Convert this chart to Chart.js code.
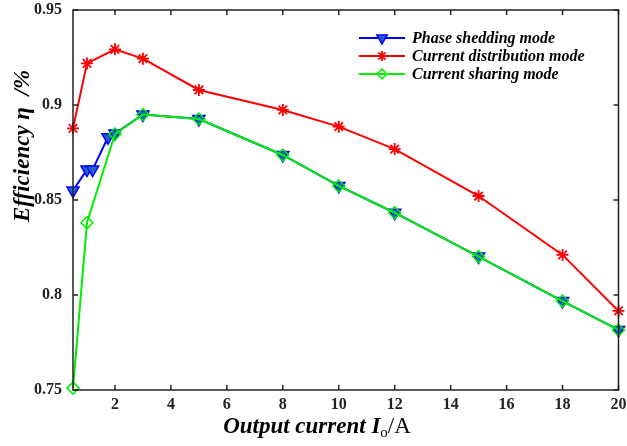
<!DOCTYPE html>
<html>
<head>
<meta charset="utf-8">
<script src="https://cdn.jsdelivr.net/npm/chart.js@4/dist/chart.umd.min.js"></script>
<style>
  html, body { margin: 0; padding: 0; background: #fff; }
  #wrap { width: 627px; height: 446px; }
</style>
</head>
<body>
<div id="wrap"><canvas id="effChart"></canvas></div>
<script>
// Efficiency vs output current
const sheddingX = [0.5, 1, 1.2, 1.75, 2, 3, 5, 8, 10, 12, 15, 18, 20];
const sheddingY = [0.855, 0.866, 0.866, 0.883, 0.885, 0.895, 0.8926, 0.8737, 0.8574, 0.8433, 0.8202, 0.7968, 0.7816];

const distributionX = [0.5, 1, 2, 3, 5, 8, 10, 12, 15, 18, 20];
const distributionY = [0.8877, 0.9219, 0.9293, 0.9244, 0.9079, 0.8974, 0.8886, 0.8768, 0.8521, 0.8211, 0.7916];

const sharingX = [0.5, 1, 2, 3, 5, 8, 10, 12, 15, 18, 20];
const sharingY = [0.751, 0.838, 0.8847, 0.895, 0.8926, 0.8737, 0.8574, 0.8433, 0.8202, 0.7968, 0.7816];

const xTicks = [2, 4, 6, 8, 10, 12, 14, 16, 18, 20];
const yTicks = [0.75, 0.8, 0.85, 0.9, 0.95];
const yTickLabels = ["0.75", "0.8", "0.85", "0.9", "0.95"];

const seriesNames = ["Phase shedding mode", "Current distribution mode", "Current sharing mode"];

const toPoints = (xs, ys) => xs.map((x, i) => ({ x: x, y: ys[i] }));

const serif = "'Liberation Serif', 'Times New Roman', serif";

// frame + inward ticks on all four sides, axis titles with subscripts, legend
const framePlugin = {
  id: "frame",
  afterDraw(chart) {
    const c = chart.ctx;
    const a = chart.chartArea;
    const xs = chart.scales.x;
    const ys = chart.scales.y;
    c.save();
    c.strokeStyle = "#222";
    c.lineWidth = 1.5;
    c.strokeRect(a.left, a.top, a.right - a.left, a.bottom - a.top);
    c.beginPath();
    xTicks.forEach((t) => {
      const px = xs.getPixelForValue(t);
      c.moveTo(px, a.bottom); c.lineTo(px, a.bottom - 5);
      c.moveTo(px, a.top); c.lineTo(px, a.top + 5);
    });
    yTicks.forEach((t) => {
      const py = ys.getPixelForValue(t);
      c.moveTo(a.left, py); c.lineTo(a.left + 5, py);
      c.moveTo(a.right, py); c.lineTo(a.right - 5, py);
    });
    c.stroke();

    // x title: Output current I_o/A
    c.fillStyle = "#000";
    c.textBaseline = "alphabetic";
    const parts = [
      { t: "Output current I", f: "italic bold 23px " + serif, dy: 0 },
      { t: "o", f: "15px " + serif, dy: 4 },
      { t: "/A", f: "23px " + serif, dy: 0 },
    ];
    let total = 0;
    parts.forEach((p) => { c.font = p.f; p.w = c.measureText(p.t).width; total += p.w; });
    let x0 = 317 - total / 2;
    parts.forEach((p) => { c.font = p.f; c.fillText(p.t, x0, 433 + p.dy); x0 += p.w; });

    // y title: Efficiency η /%
    c.translate(29, 146);
    c.rotate(-Math.PI / 2);
    const yt = "Efficiency η  /%";
    c.font = "italic bold 23px " + serif;
    c.textAlign = "center";
    c.fillText(yt, 0, 0);
    c.restore();

    // legend
    c.save();
    const rows = [38, 56, 74];
    chart.data.datasets.forEach((ds, i) => {
      const y = rows[i];
      c.strokeStyle = ds.borderColor;
      c.lineWidth = 2;
      c.beginPath(); c.moveTo(359, y); c.lineTo(405, y); c.stroke();
      c.fillStyle = ds.backgroundColor;
      c.lineWidth = ds.pointBorderWidth;
      Chart.helpers.drawPoint(c, {
        pointStyle: ds.pointStyle,
        rotation: ds.pointRotation || 0,
        radius: ds.pointRadius - 1,
        borderWidth: ds.pointBorderWidth,
      }, 382, y);
      c.fillStyle = "#000";
      c.font = "italic bold 16px " + serif;
      c.textBaseline = "middle";
      c.fillText(ds.label, 412, y + 1);
    });
    c.restore();
  },
};

new Chart(document.getElementById("effChart"), {
  type: "line",
  data: {
    datasets: [
      {
        label: seriesNames[0],
        data: toPoints(sheddingX, sheddingY),
        borderColor: "#0000ff",
        backgroundColor: "#1f62c8",
        borderWidth: 2,
        pointStyle: "triangle",
        pointRotation: 180,
        pointRadius: 7,
        pointBorderWidth: 1.5,
        order: 3,
      },
      {
        label: seriesNames[1],
        data: toPoints(distributionX, distributionY),
        borderColor: "#ff0000",
        backgroundColor: "#ff0000",
        borderWidth: 2,
        pointStyle: "star",
        pointRadius: 6,
        pointBorderWidth: 1.8,
        order: 2,
      },
      {
        label: seriesNames[2],
        data: toPoints(sharingX, sharingY),
        borderColor: "#00ee00",
        backgroundColor: "rgba(0,0,0,0)",
        borderWidth: 2,
        pointStyle: "rectRot",
        pointRadius: 6,
        pointBorderWidth: 1.5,
        order: 1,
      },
    ],
  },
  options: {
    responsive: true,
    maintainAspectRatio: false,
    animation: false,
    clip: false,
    layout: { padding: { left: 0, right: 7, top: 10, bottom: 0 } },
    plugins: {
      legend: { display: false },
      tooltip: { enabled: false },
    },
    scales: {
      x: {
        type: "linear",
        min: 0.5,
        max: 20,
        afterBuildTicks: (s) => { s.ticks = xTicks.map((v) => ({ value: v })); },
        afterFit: (s) => { s.height = 56; s.paddingLeft = 0; s.paddingRight = 0; },
        grid: { display: false, drawTicks: false },
        border: { display: false },
        ticks: { color: "#222", padding: 5, font: { family: serif, size: 16, weight: "bold" } },
      },
      y: {
        type: "linear",
        min: 0.75,
        max: 0.95,
        afterBuildTicks: (s) => { s.ticks = yTicks.map((v) => ({ value: v })); },
        afterFit: (s) => { s.width = 73; s.paddingTop = 0; s.paddingBottom = 0; },
        grid: { display: false, drawTicks: false },
        border: { display: false },
        ticks: {
          color: "#222",
          padding: 11,
          font: { family: serif, size: 16, weight: "bold" },
          callback: (v) => yTickLabels[yTicks.indexOf(v)] ?? "",
        },
      },
    },
  },
  plugins: [framePlugin],
});
</script>
</body>
</html>
